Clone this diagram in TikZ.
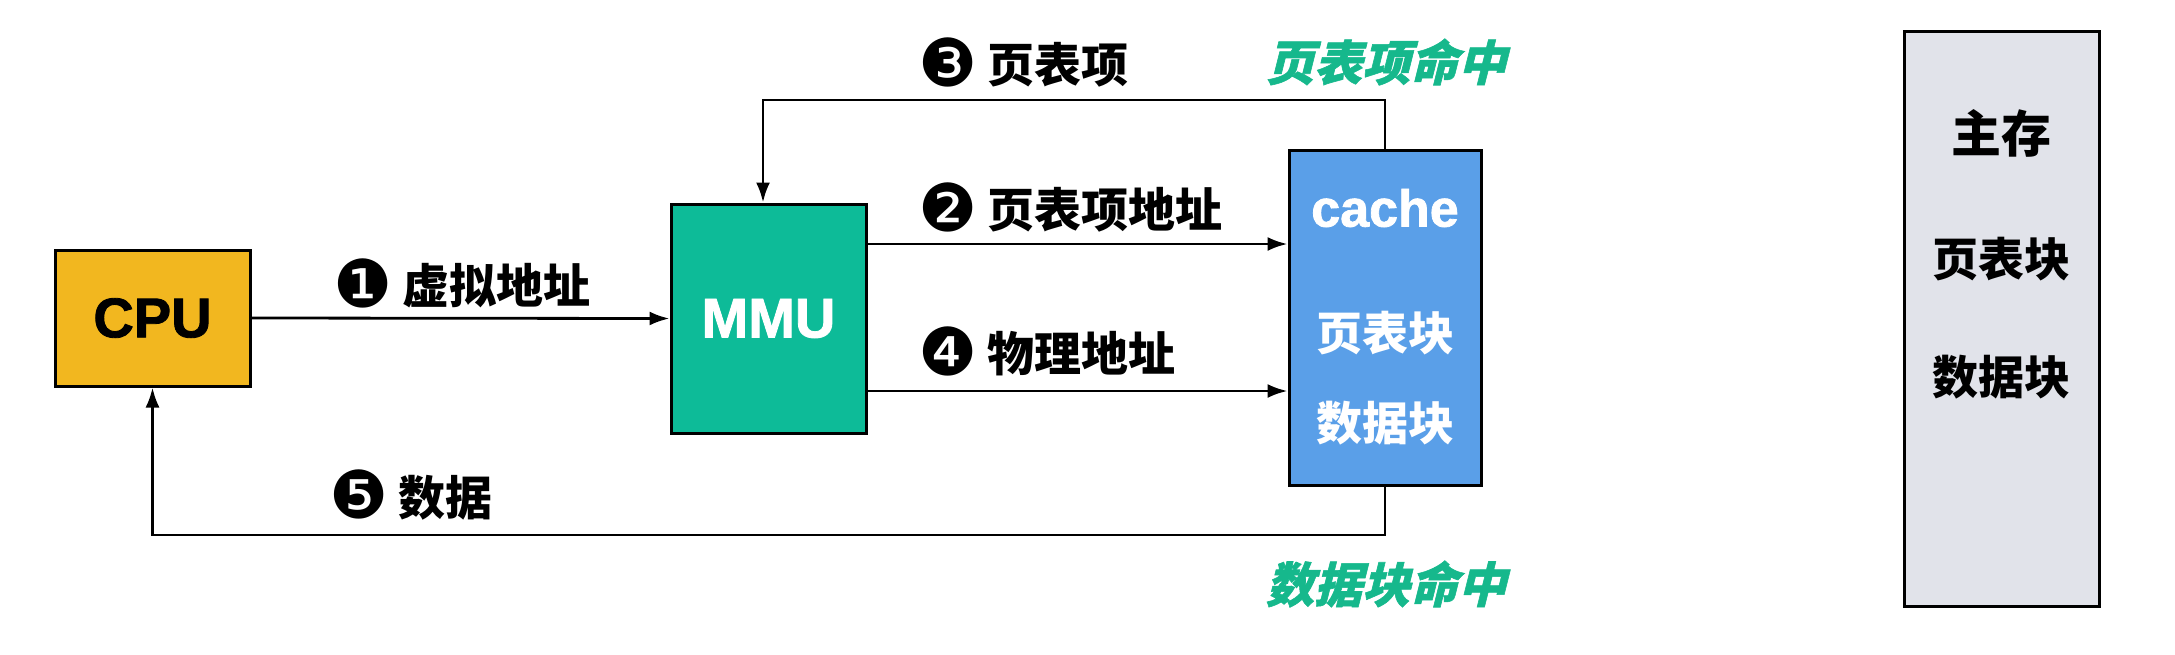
\documentclass[tikz,border=0pt]{standalone}
\usepackage{fontspec}
\setmainfont{Liberation Sans}[BoldFeatures={FakeBold=1.5}]
\newfontfamily\cjk{Noto Sans CJK SC}[UprightFont=* Black,BoldFont=* Black]
\newfontfamily\dv{DejaVu Sans}
\newfontfamily\cjkit{Noto Sans CJK SC}[UprightFont=* Black,BoldFont=* Black,FakeSlant=0.25,FakeBold=1.2]
\usetikzlibrary{arrows.meta,calc}
\definecolor{cpuc}{RGB}{242,183,31}
\definecolor{mmuc}{RGB}{13,187,152}
\definecolor{cachec}{RGB}{90,159,232}
\definecolor{memc}{RGB}{225,227,234}
\definecolor{hitc}{RGB}{22,184,140}
\tikzset{
  box/.style={draw=black,line width=3pt,inner sep=0pt},
  arr/.style={line width=2.8pt,-{Latex[length=20pt,width=14pt]}},
  lbl/.style={anchor=west,inner sep=0pt,font=\fontsize{47}{50}\selectfont\cjk},
  hit/.style={inner sep=0pt,text=hitc,font=\fontsize{48}{52}\selectfont\cjkit},
  wtxt/.style={inner sep=0pt,text=white,font=\fontsize{46}{50}\selectfont\cjk},
  btxt/.style={inner sep=0pt,text=black,font=\fontsize{46}{50}\selectfont\cjk},
}
\newcommand{\num}[1]{\raisebox{-4pt}{\fontsize{66}{66}\selectfont\dv #1}\hspace{10pt}}
\begin{document}
\begin{tikzpicture}[x=1pt,y=-1pt]
\useasboundingbox (0,0) rectangle (2175,654);
\node[box,fill=cpuc,minimum width=195pt,minimum height=136pt,font=\fontsize{56}{58}\selectfont\bfseries] (cpu) at (152.5,318) {CPU};
\node[box,fill=mmuc,minimum width=195pt,minimum height=229pt,text=white,font=\fontsize{56}{58}\selectfont\bfseries] (mmu) at (768.5,318.5) {MMU};
\node[box,fill=cachec,minimum width=192pt,minimum height=335pt] (cache) at (1385,317.5) {};
\node[box,fill=memc,minimum width=195pt,minimum height=575pt] (mem) at (2001.5,318.5) {};

\node[inner sep=0pt,text=white,font=\fontsize{52}{56}\selectfont\bfseries] (ct) at (1385,208) {cache};
\node[wtxt] (cpt) at (1385,333) {页表块};
\node[wtxt] (cdt) at (1385,423) {数据块};

\node[btxt,font=\fontsize{50}{54}\selectfont\cjk] (mt) at (2001.5,133) {主存};
\node[btxt] (mpt) at (2001.5,259) {页表块};
\node[btxt] (mdt) at (2001.5,377) {数据块};

\coordinate (t3) at (763,100);
\coordinate (b5) at (152.5,535);

\draw[arr] (cpu.east) -- (mmu.west);
\draw[arr] (mmu.east |- 0,244) -- (cache.west |- 0,244);
\draw[arr] (mmu.east |- 0,391) -- (cache.west |- 0,391);
\draw[arr] (cache.north) |- (t3) -- (t3 |- mmu.north);
\draw[arr] (cache.south) |- (b5) -- (cpu.south);

\node[lbl] (l1) at (333,283) {\num{❶}虚拟地址};
\node[lbl] (l2) at (918,207) {\num{❷}页表项地址};
\node[lbl] (l3) at (918,62) {\num{❸}页表项};
\node[lbl] (l4) at (918,351) {\num{❹}物理地址};
\node[lbl] (l5) at (329,495) {\num{❺}数据};

\node[hit] (h1) at (1386,62) {页表项命中};
\node[hit] (h2) at (1386,584) {数据块命中};
\end{tikzpicture}
\end{document}
